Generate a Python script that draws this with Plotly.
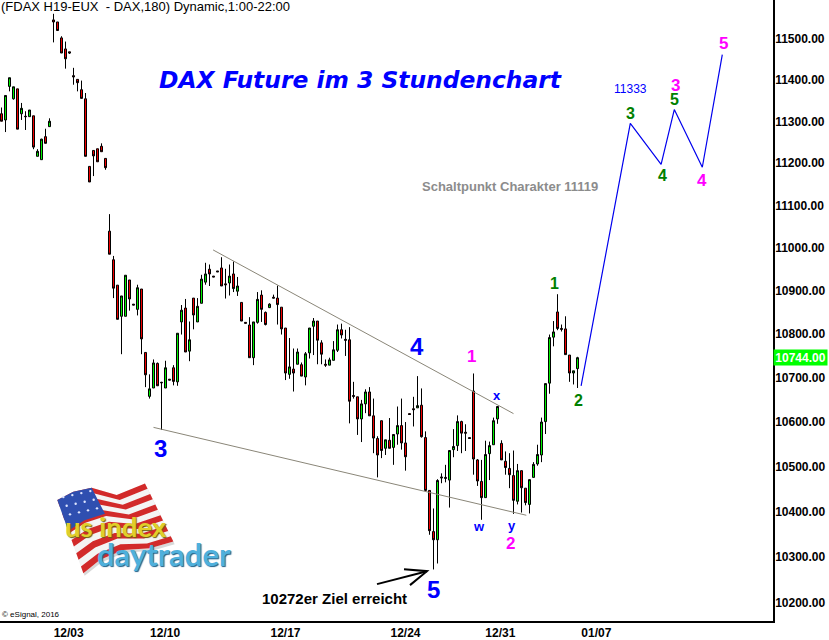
import math
import plotly.graph_objects as go

# Values (DAX future, 3-hour bars; x is the bar number)
open_ = [11316,11301,11382,11352,11376,11316,11310,11309,11311,11214,11206,11261,11285,
 11544,11539,11500,11473,11466,11408,11399,11374,11352,11190,11228,11232,11238,11209,
 11037,10970,10911,10839,10839,10923,10867,10855,10902,10756,10656,10675,10731,10688,10675,10695,10721,10689,10826,10858,10759,10881,10826,10869,10918,10948,10932,10944,10951,10914,10916,10937,10897,
 10871,10825,10819,10744,10825,10888,10848,10859,10883,10881,10860,10812,10706,10718,10729,10728,10700,10755,10816,10828,10778,10729,10727,10738,10761,10808,
 10786,10785,10658,10655,10605,10639,10666,10612,10561,10601,10539,10557,10541,10571,10590,10551,10617,10628,10630,10636,10563,10445,10354,10336,10475,10474,10468,10536,10545,10599,10575,10563,10668,10513,10465,10429,10527,10547,10605,10550,10510,10494,10478,10421,10489,10450,10414,10474,10504,10524,10599,10686,10791,10849,10811,10810,10750,10709,10719]
high = [11331,11360,11403,11381,11376,11342,11322,11325,11311,11231,11256,11280,11305,
 11559,11539,11504,11491,11466,11427,11399,11396,11366,11190,11228,11232,11245,11209,
 11077,10979,10911,10886,10934,10923,10867,10912,10902,10756,10706,10740,10733,10689,10737,10695,10727,10800,10865,10879,10827,10881,10881,10935,10963,10959,10932,10944,10976,10949,10959,10966,10930,
 10871,10825,10837,10826,10895,10899,10850,10869,10889,10910,10860,10812,10789,10765,10765,10733,10757,10812,10835,10828,10784,10740,10744,10782,10820,10822,
 10808,10814,10689,10655,10648,10672,10677,10651,10566,10601,10558,10607,10570,10633,10651,10598,10617,10655,10702,10674,10577,10445,10405,10470,10483,10502,10534,10582,10613,10601,10593,10563,10708,10515,10513,10556,10554,10608,10634,10557,10532,10528,10534,10504,10489,10450,10469,10508,10547,10608,10685,10797,10828,10890,10820,10839,10750,10714,10746]
low = [11298,11272,11370,11350,11279,11301,11277,11309,11231,11214,11206,11245,11285,
 11489,11518,11463,11425,11461,11386,11370,11353,11214,11153,11167,11201,11225,11182,
 10983,10881,10832,10752,10839,10852,10865,10841,10752,10677,10651,10675,10680,10580,10675,10693,10681,10680,10797,10757,10736,10809,10826,10869,10912,10909,10930,10942,10909,10880,10887,10895,10886,
 10828,10823,10744,10727,10822,10826,10818,10858,10881,10820,10797,10693,10696,10667,10729,10702,10681,10742,10750,10729,10729,10723,10727,10738,10757,10788,
 10748,10595,10651,10569,10553,10618,10612,10528,10474,10517,10524,10539,10502,10547,10536,10489,10615,10588,10630,10563,10445,10347,10271,10284,10461,10463,10407,10519,10533,10528,10533,10561,10480,10455,10380,10429,10468,10547,10594,10513,10480,10450,10393,10414,10396,10412,10394,10474,10500,10508,10571,10662,10770,10807,10804,10751,10689,10683,10675]
close = [11298,11360,11403,11381,11279,11329,11309,11325,11236,11226,11255,11245,11298,
 11539,11518,11463,11449,11463,11405,11391,11353,11214,11153,11215,11201,11225,11187,
 10983,10904,10832,10886,10934,10879,10865,10905,10787,10705,10673,10732,10680,10687,10721,10693,10690,10800,10853,10757,10785,10842,10862,10925,10937,10937,10930,10942,10909,10912,10932,10903,10909,
 10828,10823,10744,10826,10878,10855,10820,10867,10881,10866,10810,10709,10723,10709,10757,10702,10753,10812,10828,10784,10752,10727,10739,10762,10808,10796,
 10784,10645,10656,10605,10639,10666,10612,10562,10524,10534,10558,10539,10570,10590,10551,10520,10615,10626,10635,10565,10445,10356,10336,10467,10473,10472,10534,10543,10599,10573,10573,10561,10515,10466,10429,10525,10545,10601,10633,10513,10496,10480,10423,10489,10451,10418,10469,10503,10525,10598,10685,10790,10803,10811,10809,10751,10709,10714,10744]
bars = list(range(len(close)))

forecast_x = [144.9, 157.2, 164.9, 168.2, 175.2, 180.2]
forecast_y = [10680, 11293, 11195, 11326, 11188, 11459]
upper_x, upper_y = [52.9, 128], [10993, 10617]
lower_x, lower_y = [38, 131.2], [10586, 10390]

price_ticks = [11500,11400,11300,11200,11100,11000,10900,10800,10700,10600,10500,10400,10300,10200]
date_ticks = [16.8, 40.9, 71, 101, 124.7, 148.7]
date_labels = ["12/03","12/10","12/17","12/24","12/31","01/07"]
last_price = 10744

W, H, PW, PH = 829, 640, 773, 623
ARIAL = "Liberation Sans"
px = lambda x: x / PW
py = lambda y: 1 - y / PH

lg_per_px = (math.log10(11500) - math.log10(10200)) / (604 - 38)
y_top = math.log10(11500) + 38 * lg_per_px
y_bot = y_top - PH * lg_per_px

fig = go.Figure()
fig.add_trace(go.Scatter(x=upper_x, y=upper_y, mode="lines", line=dict(color="#8a8678", width=1), hoverinfo="skip"))
fig.add_trace(go.Scatter(x=lower_x, y=lower_y, mode="lines", line=dict(color="#8a8678", width=1), hoverinfo="skip"))
fig.add_trace(go.Candlestick(
    x=bars, open=open_, high=high, low=low, close=close, whiskerwidth=0,
    increasing=dict(line=dict(color="#000000", width=1), fillcolor="#00f000"),
    decreasing=dict(line=dict(color="#000000", width=1), fillcolor="#f00000"),
))
fig.add_trace(go.Scatter(x=forecast_x, y=forecast_y, mode="lines", line=dict(color="#0000ee", width=1.2), hoverinfo="skip"))

anns = []
def label(text, x, y, size, color, bold=True, italic=False, anchor="center", family=ARIAL, shadow=None):
    f = dict(size=size, color=color, family=family, weight=700 if bold else 400, style="italic" if italic else "normal")
    if shadow:
        f["shadow"] = shadow
    anns.append(dict(text=text, x=px(x), y=py(y), xref="paper", yref="paper", showarrow=False,
                     xanchor=anchor, yanchor="middle", font=f, borderpad=0))

BLUE, PINK, GREEN = "#0000ff", "#ff00ff", "#008000"
label("(FDAX H19-EUX  - DAX,180) Dynamic,1:00-22:00", 0, 7, 13, "#000000", bold=False, anchor="left")
label("DAX Future im 3 Stundenchart", 360, 80, 23.4, BLUE, italic=True, family="DejaVu Sans")
label("11333", 630, 89, 12, BLUE, bold=False)
label("Schaltpunkt Charakter 11119", 510, 187, 13, "#8c8c8c")
label("10272er Ziel erreicht", 334, 600, 15, "#000000")
label("© eSignal, 2016", 1, 616, 8, "#000000", bold=False, anchor="left")
for t, x, y, s, c in [
    ("3",160,450,24,BLUE),("4",417,348,24,BLUE),("5",433,591,24,BLUE),
    ("1",471,358,17,PINK),("2",510,545,17,PINK),("3",675,86,17,PINK),("4",702,181,17,PINK),("5",723,44,17,PINK),
    ("1",554,284,16,GREEN),("2",578,402,16,GREEN),("3",630,114,16,GREEN),("4",662,176,16,GREEN),("5",674,100,16,GREEN),
    ("x",497,397,13,BLUE),("w",479,528,13,BLUE),("y",512,527,13,BLUE)]:
    label(t, x, y, s, c)

anns.append(dict(text=f"{last_price:.2f}", x=1, y=math.log10(last_price), xref="paper", yref="y", showarrow=False,
                 xanchor="left", yanchor="middle", xshift=0, bgcolor="#00ff00", width=53, height=15, borderpad=0,
                 font=dict(size=12, color="#ffffff", family=ARIAL, weight=700)))

shapes = []
def poly(pts, fill, line=None, width=1, close_=True):
    d = "M " + " L ".join(f"{px(x):.5f},{py(y):.5f}" for x, y in pts) + (" Z" if close_ else "")
    shapes.append(dict(type="path", path=d, xref="paper", yref="paper", fillcolor=fill if fill else "rgba(0,0,0,0)",
                       line=dict(color=line if line else "rgba(0,0,0,0)", width=width), layer="above"))

# hand-drawn arrow
poly([(377,586),(427,573)], None, "#000000", 2, False)
poly([(404,571),(427,573),(410,587)], None, "#000000", 2, False)

# logo flag
def z8(x, y):
    return (50 + x / 3, 480 + y / 3)
top = [(22,65),(70,40),(125,28),(200,50),(285,15)]
bot = [(100,285),(150,245),(220,215),(300,210),(370,190)]
def fp(i, s):
    return z8(top[i][0] + (bot[i][0]-top[i][0])*s, top[i][1] + (bot[i][1]-top[i][1])*s)
poly([z8(x+4,y+8) for x,y in top+bot[::-1]], "#d8d8d8")
poly([fp(i,0) for i in range(5)] + [fp(i,1) for i in range(4,-1,-1)], "#f4f4f4")
for k in range(6):
    s0, s1 = k*2/11, (k*2+1)/11
    poly([fp(i,s0) for i in range(5)] + [fp(i,s1) for i in range(4,-1,-1)], "#d22a2a")
poly([fp(0,0),fp(1,0),fp(2,0),fp(2,.42),fp(1,.42),fp(0,.42)], "#2f4fb0")
for i in range(4):
    for j in range(3):
        a, b = z8(40+27*i+10*j, 56-6*i+26*j)
        shapes.append(dict(type="circle", xref="paper", yref="paper", x0=px(a-1.2), x1=px(a+1.2), y0=py(b+1.2), y1=py(b-1.2),
                           fillcolor="#dfe6ff", line=dict(width=0), layer="above"))
label("us index", 116, 528, 27.5, "#e0cf2a", family="Lato", shadow="1px 1px 1px #6a6010")
label("daytrader", 164, 556, 31, "#4fb0dc", family="Lato", shadow="1px 1px 1px #1f5f88")

fig.update_layout(
    width=W, height=H, autosize=False, showlegend=False, plot_bgcolor="#ffffff", paper_bgcolor="#ffffff",
    margin=dict(l=0, r=W-PW, t=0, b=H-PH), hovermode=False, boxgap=0.5, boxgroupgap=0,
    annotations=anns, shapes=shapes,
    xaxis=dict(range=[-0.375, 192.875], rangeslider=dict(visible=False), showgrid=False, zeroline=False,
               tickmode="array", tickvals=date_ticks, ticktext=date_labels, ticks="", showline=True,
               linecolor="#000000", linewidth=1.5, tickfont=dict(size=12, color="#000000", family=ARIAL, weight=700)),
    yaxis=dict(type="log", range=[y_bot, y_top], side="right", showgrid=False, zeroline=False,
               tickmode="array", tickvals=price_ticks, ticktext=[f"{p:.2f}" for p in price_ticks], ticks="",
               showline=True, linecolor="#000000", linewidth=1.5, ticklabelstandoff=-2, ticklabelshift=1,
               tickfont=dict(size=12, color="#000000", family=ARIAL, weight=700)),
)
fig.write_html("out.html", config=dict(displayModeBar=False),
               post_script="document.body.style.margin='0';document.body.style.overflow='hidden';")
